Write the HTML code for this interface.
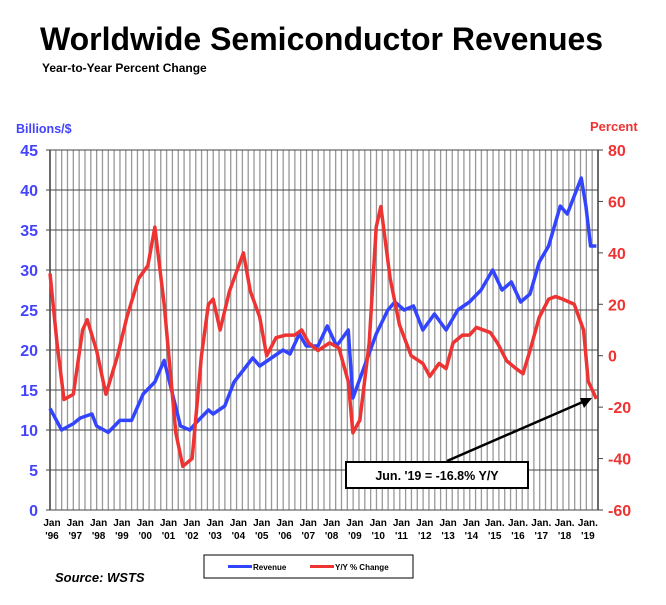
<!DOCTYPE html>
<html><head><meta charset="utf-8"><style>
body{margin:0;background:#fff;width:666px;height:600px;overflow:hidden;font-family:"Liberation Sans",sans-serif}
</style></head><body>
<svg id="s" width="666" height="600" xmlns="http://www.w3.org/2000/svg" font-family="Liberation Sans, sans-serif">
<text x="40" y="50" font-size="32" font-weight="bold" fill="#000">Worldwide Semiconductor Revenues</text>
<text x="42" y="72" font-size="12" font-weight="bold" fill="#000">Year-to-Year Percent Change</text>
<text x="16" y="133" font-size="12.5" font-weight="bold" fill="#4444ff">Billions/$</text>
<text x="590" y="131" font-size="13" font-weight="bold" fill="#ee3333">Percent</text>
<g id="g"></g>
<rect x="204" y="555" width="209" height="23" fill="#fff" stroke="#000" stroke-width="1"/>
<line x1="228" y1="566.5" x2="252" y2="566.5" stroke="#3344ff" stroke-width="3"/>
<text x="253" y="570" font-size="8" font-weight="bold">Revenue</text>
<line x1="310" y1="566.5" x2="334" y2="566.5" stroke="#ee3333" stroke-width="3"/>
<text x="335" y="570" font-size="8" font-weight="bold">Y/Y % Change</text>
<text x="55" y="582" font-size="13" font-weight="bold" font-style="italic">Source: WSTS</text>
<line x1="447" y1="461" x2="585" y2="401" stroke="#000" stroke-width="2.5"/>
<polygon points="592,398 580,398 584,408" fill="#000"/>
<rect x="346" y="462" width="182" height="26" fill="#fff" stroke="#000" stroke-width="2"/>
<text x="437" y="480" font-size="12.5" font-weight="bold" text-anchor="middle">Jun. '19 = -16.8% Y/Y</text>
</svg>
<script>
var g=document.getElementById('g'),h='';
var L=50,R=598,T=150,B=510;
function X(yr){return L+(yr-1996)*23.3;}
for(var i=0;i<=94;i++){var x=L+i*(R-L)/94;h+='<line x1="'+x+'" y1="'+T+'" x2="'+x+'" y2="'+B+'" stroke="#999" stroke-width="1.3"/>';}
for(var v=0;v<=45;v+=5){var y=B-v*8;h+='<line x1="'+(L-4)+'" y1="'+y+'" x2="'+R+'" y2="'+y+'" stroke="#444" stroke-width="1"/>';
h+='<text x="38" y="'+(y+6)+'" font-size="16" font-weight="bold" fill="#4444ff" text-anchor="end">'+v+'</text>';}
h+='<line x1="'+L+'" y1="'+T+'" x2="'+L+'" y2="'+B+'" stroke="#444" stroke-width="1.5"/>';
h+='<line x1="'+R+'" y1="'+T+'" x2="'+R+'" y2="'+B+'" stroke="#444" stroke-width="1.5"/>';
for(var p=-60;p<=80;p+=20){var y=T+(80-p)*360/140;h+='<line x1="'+R+'" y1="'+y+'" x2="'+(R+5)+'" y2="'+y+'" stroke="#444"/>';
h+='<text x="'+(R+10)+'" y="'+(y+6)+'" font-size="16" font-weight="bold" fill="#ee3333">'+p+'</text>';}
var yrs=['96','97','98','99','00','01','02','03','04','05','06','07','08','09','10','11','12','13','14','15','16','17','18','19'];
yrs.forEach(function(s,i){var x=X(1996+i)+2;var j=(i>=19)?'Jan.':'Jan';
h+='<text x="'+x+'" y="526" font-size="10" font-weight="bold" text-anchor="middle">'+j+'</text><text x="'+x+'" y="539" font-size="10" font-weight="bold" text-anchor="middle">\''+s+'</text>';});
var rev=[[1996,12.7],[1996.5,10],[1997,10.8],[1997.3,11.5],[1997.8,12],[1998,10.5],[1998.5,9.7],[1999,11.2],[1999.5,11.2],[2000,14.5],[2000.5,16],[2000.9,18.7],[2001.3,14],[2001.6,10.5],[2002,10],[2002.3,11],[2002.8,12.5],[2003,12],[2003.5,13],[2003.9,16],[2004.3,17.5],[2004.7,19],[2005,18],[2005.5,19],[2006,20],[2006.3,19.5],[2006.7,22],[2007,20.5],[2007.5,20.5],[2007.9,23],[2008.3,20.5],[2008.8,22.5],[2009,14],[2009.5,18],[2010,22],[2010.5,25],[2010.8,26],[2011.2,25],[2011.6,25.5],[2012,22.5],[2012.5,24.5],[2013,22.5],[2013.5,25],[2014,26],[2014.5,27.5],[2015,30],[2015.4,27.5],[2015.8,28.5],[2016.2,26],[2016.6,27],[2017,31],[2017.4,33],[2017.9,38],[2018.2,37],[2018.8,41.5],[2019,38],[2019.2,33],[2019.45,33]];
var yy=[[1996,32],[1996.3,5],[1996.6,-17],[1997,-15],[1997.4,10],[1997.6,14],[1998,2],[1998.4,-15],[1998.9,0],[1999.3,15],[1999.8,30],[2000.2,35],[2000.5,50],[2000.9,20],[2001.4,-30],[2001.7,-43],[2002.1,-40],[2002.5,0],[2002.8,20],[2003,22],[2003.3,10],[2003.7,25],[2004.1,35],[2004.3,40],[2004.6,25],[2005,15],[2005.3,0],[2005.7,7],[2006.1,8],[2006.5,8],[2006.8,10],[2007.1,5],[2007.5,2],[2008,5],[2008.4,3],[2008.8,-10],[2009,-30],[2009.3,-25],[2009.7,5],[2010,50],[2010.2,58],[2010.6,30],[2011,12],[2011.5,0],[2012,-3],[2012.3,-8],[2012.7,-3],[2013,-5],[2013.3,5],[2013.7,8],[2014,8],[2014.3,11],[2014.9,9],[2015.2,5],[2015.6,-2],[2016,-5],[2016.3,-7],[2016.6,2],[2017,15],[2017.4,22],[2017.7,23],[2018,22],[2018.5,20],[2018.9,10],[2019.1,-10],[2019.45,-16.8]];
h+='<polyline fill="none" stroke="#3344ff" stroke-width="3.5" stroke-linejoin="round" points="'+rev.map(function(d){return X(d[0])+','+(B-d[1]*8)}).join(' ')+'"/>';
h+='<polyline fill="none" stroke="#ee3333" stroke-width="3.5" stroke-linejoin="round" points="'+yy.map(function(d){return X(d[0])+','+(T+(80-d[1])*360/140)}).join(' ')+'"/>';
g.innerHTML=h;
</script>
</body></html>
